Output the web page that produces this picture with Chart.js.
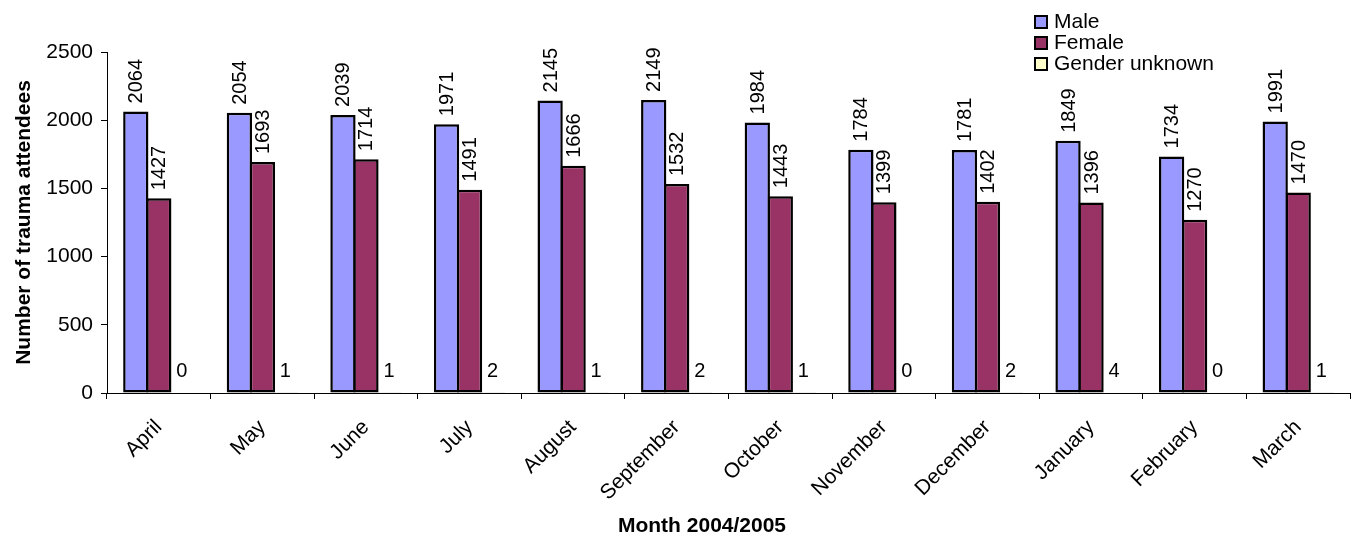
<!DOCTYPE html>
<html>
<head>
<meta charset="utf-8">
<script src="https://cdn.jsdelivr.net/npm/chart.js@4"></script>
<style>
  body { margin: 0; background: #fff; }
  #wrap { position: relative; width: 1357px; height: 537px; }
  #legend { position: absolute; left: 1034px; top: 10px; font: 21px "Liberation Sans", Arial, sans-serif; color: #000; }
  #legend div { height: 21px; line-height: 21px; white-space: nowrap; }
  #legend span.box { display: inline-block; width: 10px; height: 10px; border: 2.5px solid #000; margin-right: 6px; vertical-align: -1px; }
</style>
</head>
<body>
<div id="wrap">
  <canvas id="chart-trauma" width="1357" height="537"></canvas>
  <div id="legend"></div>
</div>
<script>
const months = ['April', 'May', 'June', 'July', 'August', 'September', 'October', 'November', 'December', 'January', 'February', 'March'];
const male = [2064, 2054, 2039, 1971, 2145, 2149, 1984, 1784, 1781, 1849, 1734, 1991];
const female = [1427, 1693, 1714, 1491, 1666, 1532, 1443, 1399, 1402, 1396, 1270, 1470];
const unknown = [0, 1, 1, 2, 1, 2, 1, 0, 2, 4, 0, 1];
const seriesNames = ['Male', 'Female', 'Gender unknown'];
const seriesColors = ['#9999FF', '#993366', '#FFFFCC'];
const xTitle = 'Month 2004/2005';

const fontFamily = '"Liberation Sans", Arial, sans-serif';

// value labels : vertical above the big bars, flat for the tiny ones
// + x axis title (Excel puts it a bit left of the plot centre)
const valueLabels = {
  id: 'valueLabels',
  afterDatasetsDraw(chart) {
    const ctx = chart.ctx;
    ctx.save();
    ctx.fillStyle = '#000';
    ctx.font = '20px ' + fontFamily;
    chart.data.datasets.forEach((ds, i) => {
      chart.getDatasetMeta(i).data.forEach((bar, j) => {
        const v = ds.data[j];
        if (v >= 100) {
          ctx.save();
          ctx.translate(bar.x + 1, bar.y - 8);
          ctx.rotate(-Math.PI / 2);
          ctx.textAlign = 'left';
          ctx.textBaseline = 'middle';
          ctx.fillText(String(v), 0, 0);
          ctx.restore();
        } else {
          ctx.textAlign = 'center';
          ctx.textBaseline = 'alphabetic';
          ctx.fillText(String(v), bar.x, chart.chartArea.bottom - 16);
        }
      });
    });
    ctx.font = 'bold 21px ' + fontFamily;
    ctx.textAlign = 'center';
    ctx.textBaseline = 'middle';
    ctx.fillText(xTitle, 702, 526);
    ctx.restore();
  }
};

const chartTrauma = document.getElementById('chart-trauma');

new Chart(chartTrauma, {
  type: 'bar',
  data: {
    labels: months,
    datasets: [male, female, unknown].map((d, i) => ({
      label: seriesNames[i],
      data: d,
      backgroundColor: seriesColors[i],
      borderColor: '#000',
      borderWidth: 2.5,
      borderSkipped: false,
      inflateAmount: 0,
      categoryPercentage: 0.666,
      barPercentage: 1.1
    }))
  },
  options: {
    responsive: false,
    animation: false,
    layout: { padding: { top: 52, right: 7, left: 0, bottom: 0 } },
    plugins: {
      legend: { display: false },
      tooltip: { enabled: false }
    },
    scales: {
      y: {
        min: 0,
        max: 2500,
        ticks: {
          stepSize: 500, color: '#000', padding: 8,
          font: { size: 21, family: fontFamily },
          callback: (v) => String(v)
        },
        grid: { drawOnChartArea: false, tickLength: 6, color: '#000' },
        border: { color: '#000', width: 1 },
        title: {
          display: true,
          text: 'Number of trauma attendees',
          color: '#000',
          padding: { top: 12, bottom: 0 },
          font: { size: 21, weight: 'bold', family: fontFamily }
        },
        afterFit(scale) { scale.width = 107; }
      },
      x: {
        ticks: { minRotation: 45, maxRotation: 45, color: '#000', padding: 16, font: { size: 21, family: fontFamily } },
        grid: { drawOnChartArea: false, tickLength: 6, color: '#000', offset: true },
        border: { color: '#000', width: 1 },
        afterFit(scale) { scale.height = 144; }
      }
    }
  },
  plugins: [valueLabels]
});

// legend in the top right corner
const legend = document.getElementById('legend');
seriesNames.forEach((name, i) => {
  const row = document.createElement('div');
  row.innerHTML = '<span class="box" style="background:' + seriesColors[i] + '"></span>' + name;
  legend.appendChild(row);
});
</script>
</body>
</html>
